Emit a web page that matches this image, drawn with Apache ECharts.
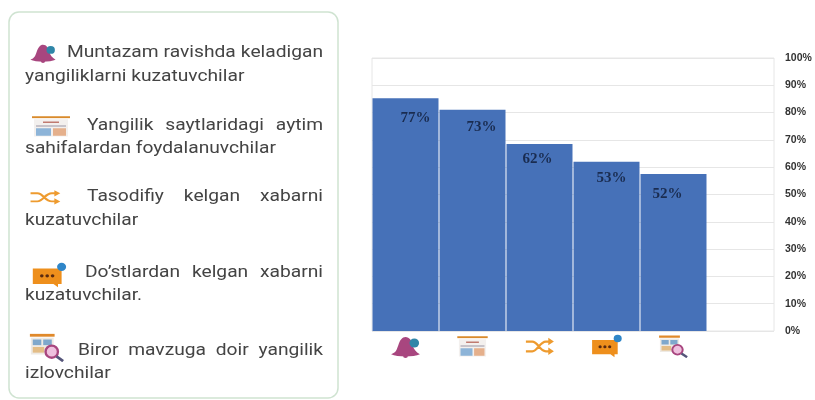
<!DOCTYPE html>
<html><head><meta charset="utf-8">
<style>html,body{margin:0;padding:0;background:#fff}#c{width:815px;height:400px}</style>
<script src="https://cdn.jsdelivr.net/npm/echarts@6/dist/echarts.min.js"></script>
</head><body><div id="c"></div>
<script>
const categories = ['Muntazam', 'Sayt', 'Tasodifiy', "Do'stlar", 'Izlovchi', ''];
const barHeights = [85.3, 81, 68.5, 62, 57.5, null];
const shownLabels = ['77%', '73%', '62%', '53%', '52%', ''];
const labelNudges = [[10,7],[9,5],[-2,3],[5,4],[-6,8],[0,0]];
const panelLines = [
  ['Muntazam ravishda keladigan', 67, 53, true], ['yangiliklarni kuzatuvchilar', 25, 77, false],
  ['Yangilik saytlaridagi aytim', 87, 126, true], ['sahifalardan foydalanuvchilar', 25, 149, false],
  ['Tasodifiy kelgan xabarni', 87, 197, true], ['kuzatuvchilar', 25, 221, false],
  ["Do\u2019stlardan kelgan xabarni", 85, 273, true], ['kuzatuvchilar.', 25, 296, false],
  ['Biror mavzuga doir yangilik', 78, 351, true], ['izlovchilar', 25, 374, false]
];
const svg = s => 'data:image/svg+xml;charset=utf-8,' + encodeURIComponent('<svg xmlns="http://www.w3.org/2000/svg" viewBox="0 0 40 32" width="40" height="32" preserveAspectRatio="none">' + s + '</svg>');
const icons = [
  svg('<path d="M2 27 C8 25 9 21 11 15 C13 8 16 4 20 4 C25 4 28 9 29 15 C30 20 33 24 38 27 C30 31 10 31 2 27Z" fill="#a8467f"/><circle cx="31" cy="12" r="6" fill="#2f86a8"/><circle cx="20" cy="29" r="3" fill="#a8467f"/>'),
  svg('<rect x="1" y="3" width="38" height="2.5" fill="#d98a2b"/><rect x="3" y="7" width="34" height="23" fill="#f3f0ee"/><rect x="12" y="10" width="16" height="2" fill="#c07a70"/><rect x="5" y="15" width="30" height="2" fill="#b9b4bd"/><rect x="5" y="19" width="15" height="10" fill="#8db4d8"/><rect x="22" y="19" width="13" height="10" fill="#e5b08c"/>'),
  svg('<path d="M3 10 H11 C18 10 20 23 28 23 H34 M3 23 H11 C18 23 20 10 28 10 H34" stroke="#ee9b2f" stroke-width="3" fill="none"/><path d="M31 5 L38 10 L31 15Z M31 18 L38 23 L31 28Z" fill="#ee9b2f"/>'),
  svg('<path d="M2 8 H34 V27 H30 V31 L25 27 H2Z" fill="#ee8f1c"/><circle cx="12" cy="17" r="2" fill="#5a2a10"/><circle cx="18" cy="17" r="2" fill="#5a2a10"/><circle cx="24" cy="17" r="2" fill="#5a2a10"/><circle cx="34" cy="6" r="5" fill="#2f86c8"/>'),
  svg('<rect x="2" y="2" width="26" height="3" fill="#e0892a"/><rect x="3" y="6" width="24" height="18" fill="#eeeae4"/><rect x="5" y="8" width="9" height="6" fill="#7fa8cc"/><rect x="16" y="8" width="9" height="6" fill="#7fa8cc"/><rect x="5" y="16" width="12" height="6" fill="#e3bd86"/><circle cx="25" cy="21" r="6.5" fill="#efc0de" stroke="#a8467f" stroke-width="2.5"/><path d="M30 26 L37 31" stroke="#55557a" stroke-width="3"/>')
];
const iconSpots = [[29,42,28,21],[31,114,40,24],[28,187,34,20],[31,262,36,26],[28,332,38,30]];
const font = '16px Roboto';
const stretch = 1.2;
const meas = document.createElement('canvas').getContext('2d'); meas.font = font;
const panelRight = 323;
const graphics = [{type:'rect', shape:{x:9,y:12,width:329,height:386,r:10}, style:{fill:'#fff',stroke:'#cfe3d1',lineWidth:1.5}, silent:true}];
iconSpots.forEach((p,i)=>graphics.push({type:'image', style:{image:icons[i],x:p[0],y:p[1],width:p[2],height:p[3]}, silent:true}));
panelLines.forEach(([t,x,y,just])=>{
  const words = just ? t.split(' ') : [t];
  const widths = words.map(w=>meas.measureText(w).width*stretch);
  const gap = just ? (panelRight-x-widths.reduce((a,b)=>a+b,0))/(words.length-1) : 0;
  let cx = x;
  words.forEach((w,i)=>{
    graphics.push({type:'text', x:cx, y:y, scaleX:stretch, style:{text:w,x:0,y:0,font:font,fill:'#444',verticalAlign:'middle'}, silent:true});
    cx += widths[i]+gap;
  });
});
const rich = {};
icons.forEach((u,i)=>{rich['i'+i]={width:32,height:24,backgroundColor:{image:u}};});
const chart = echarts.init(document.getElementById('c'));
chart.setOption({
  animation:false, backgroundColor:'#fff',
  grid:{left:372,right:41,top:58,bottom:69,show:true,borderColor:'#e6e6e6',borderWidth:1},
  xAxis:{type:'category',data:categories,axisLine:{show:false},axisTick:{show:false},splitLine:{show:false},
    axisLabel:{interval:0,margin:3,formatter:(v,i)=>i<icons.length?`{i${i}|}`:'',rich}},
  yAxis:{type:'value',position:'right',min:0,max:100,interval:10,axisLine:{show:false},axisTick:{show:false},
    splitLine:{lineStyle:{color:'#e6e6e6'}},
    axisLabel:{formatter:'{value}%',margin:11,color:'#333',fontFamily:'Liberation Sans',fontWeight:'bold',fontSize:10.5,align:'left'}},
  series:[{type:'bar',barWidth:'98.5%',barGap:0,
    data:barHeights.map((v,i)=>({value:v,label:{offset:labelNudges[i],formatter:shownLabels[i]}})),
    itemStyle:{color:'#4671b8'},
    label:{show:true,position:'insideTop',fontFamily:'Liberation Serif',fontWeight:'bold',fontSize:15,color:'#1a2c50'}}],
  graphic:graphics
});
</script></body></html>
